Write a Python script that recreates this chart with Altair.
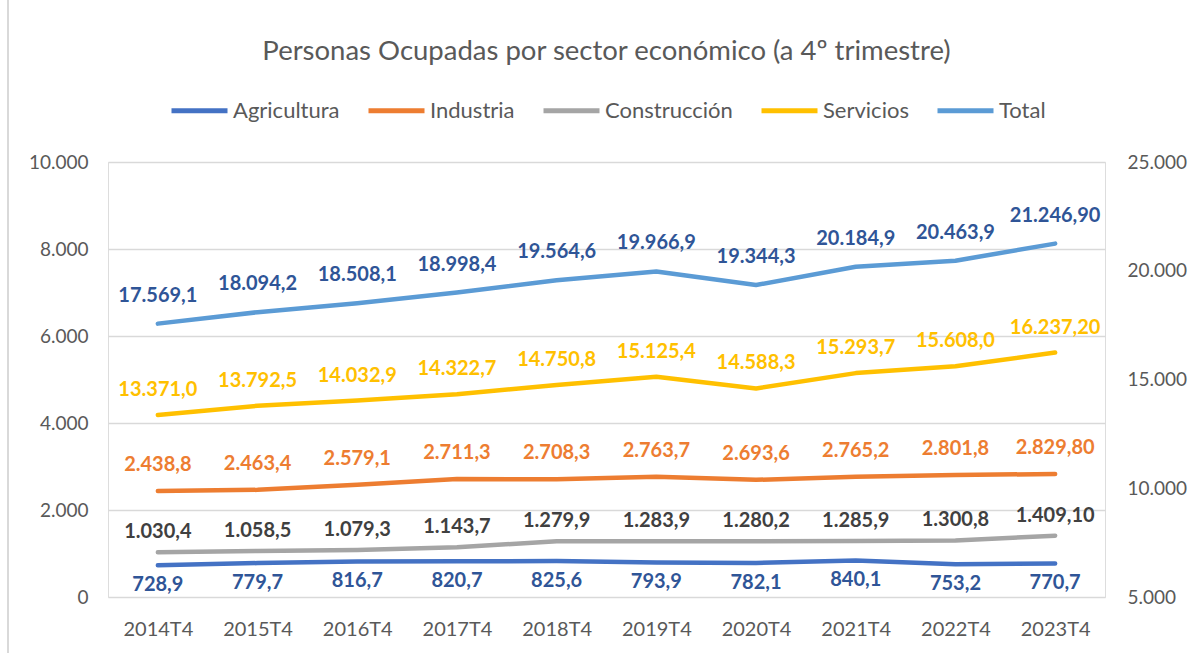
import altair as alt
import pandas as pd

categories = ["2014T4", "2015T4", "2016T4", "2017T4", "2018T4",
              "2019T4", "2020T4", "2021T4", "2022T4", "2023T4"]

agricultura = [728.9, 779.7, 816.7, 820.7, 825.6, 793.9, 782.1, 840.1, 753.2, 770.7]
industria = [2438.8, 2463.4, 2579.1, 2711.3, 2708.3, 2763.7, 2693.6, 2765.2, 2801.8, 2829.8]
construccion = [1030.4, 1058.5, 1079.3, 1143.7, 1279.9, 1283.9, 1280.2, 1285.9, 1300.8, 1409.1]
servicios = [13371.0, 13792.5, 14032.9, 14322.7, 14750.8, 15125.4, 14588.3, 15293.7, 15608.0, 16237.2]
total = [17569.1, 18094.2, 18508.1, 18998.4, 19564.6, 19966.9, 19344.3, 20184.9, 20463.9, 21246.9]

lab_agricultura = ["728,9", "779,7", "816,7", "820,7", "825,6", "793,9", "782,1", "840,1", "753,2", "770,7"]
lab_industria = ["2.438,8", "2.463,4", "2.579,1", "2.711,3", "2.708,3", "2.763,7", "2.693,6", "2.765,2", "2.801,8", "2.829,80"]
lab_construccion = ["1.030,4", "1.058,5", "1.079,3", "1.143,7", "1.279,9", "1.283,9", "1.280,2", "1.285,9", "1.300,8", "1.409,10"]
lab_servicios = ["13.371,0", "13.792,5", "14.032,9", "14.322,7", "14.750,8", "15.125,4", "14.588,3", "15.293,7", "15.608,0", "16.237,20"]
lab_total = ["17.569,1", "18.094,2", "18.508,1", "18.998,4", "19.564,6", "19.966,9", "19.344,3", "20.184,9", "20.463,9", "21.246,90"]

series_names = ["Agricultura", "Industria", "Construcción", "Servicios", "Total"]
line_colors = ["#4472C4", "#ED7D31", "#A5A5A5", "#FFC000", "#5B9BD5"]
label_colors = ["#2F5597", "#ED7D31", "#404040", "#FFC000", "#2F5597"]

rows = []
for name, vals, labs in zip(series_names,
                            [agricultura, industria, construccion, servicios, total],
                            [lab_agricultura, lab_industria, lab_construccion, lab_servicios, lab_total]):
    for c, v, l in zip(categories, vals, labs):
        rows.append({"cat": c, "series": name, "value": v, "label": l})
df = pd.DataFrame(rows)

FONT = "Lato"
GREY = "#595959"

x_enc = alt.X("cat:N", sort=categories, title=None,
              scale=alt.Scale(type="point", padding=0.5),
              axis=alt.Axis(labelAngle=0, ticks=False, domain=False, grid=False,
                            labelFontSize=20, labelColor=GREY, labelFont=FONT,
                            labelPadding=22))
color_enc = alt.Color("series:N", sort=series_names, title=None,
                      scale=alt.Scale(domain=series_names, range=line_colors),
                      legend=alt.Legend(orient="none", legendX=61, legendY=-82,
                                        direction="horizontal", symbolType="stroke",
                                        symbolStrokeWidth=5, symbolSize=3136,
                                        labelFontSize=22, labelFont=FONT,
                                        labelColor=GREY, columnPadding=18,
                                        labelOffset=3))

left_y = alt.Y("value:Q", title=None,
               scale=alt.Scale(domain=[0, 10000], nice=False),
               axis=alt.Axis(orient="left", values=[0, 2000, 4000, 6000, 8000, 10000],
                             grid=True, gridColor="#D9D9D9", gridWidth=1.3,
                             domain=False, ticks=False, labelFontSize=19,
                             labelFont=FONT, labelColor=GREY, labelPadding=20,
                             labelExpr="replace(format(datum.value, ','), regexp(',', 'g'), '.')"))
right_y = alt.Y("value:Q", title=None,
                scale=alt.Scale(domain=[5000, 25000], nice=False),
                axis=alt.Axis(orient="right", values=[5000, 10000, 15000, 20000, 25000],
                              grid=False, domain=False, ticks=False, labelFontSize=19,
                              labelFont=FONT, labelColor=GREY, labelPadding=22,
                              labelExpr="replace(format(datum.value, ','), regexp(',', 'g'), '.')"))

base = alt.Chart(df)

def lines(names, y):
    return base.transform_filter(
        alt.FieldOneOfPredicate(field="series", oneOf=names)
    ).mark_line(strokeWidth=4.5, strokeCap="round", strokeJoin="round").encode(
        x=x_enc, y=y, color=color_enc)

def labels(name, y, dy):
    i = series_names.index(name)
    return base.transform_filter(alt.datum.series == name).mark_text(
        font=FONT, fontSize=20, fontWeight="bold", dy=dy, color=label_colors[i]
    ).encode(x=x_enc, y=y, text="label:N")

frame = base.mark_rule(color="#D9D9D9", strokeWidth=1.5).encode(
    x=alt.value(-100), y=alt.value(-162), y2=alt.value(491))

left = alt.layer(
    lines(["Agricultura", "Industria", "Construcción"], left_y),
    labels("Agricultura", left_y, 20),
    labels("Industria", left_y, -26),
    labels("Construcción", left_y, -20),
    frame,
)
right = alt.layer(
    lines(["Servicios", "Total"], right_y),
    labels("Servicios", right_y, -25),
    labels("Total", right_y, -28),
)

chart = alt.layer(left, right).resolve_scale(y="independent").properties(
    width=997, height=435,
    title=alt.TitleParams("Personas Ocupadas por sector económico (a 4º trimestre)",
                          font=FONT, fontSize=27.5, fontWeight="normal", color=GREY,
                          anchor="middle", dx=0, offset=-66),
    autosize=alt.AutoSizeParams(type="none"),
    padding={"left": 108, "top": 162, "right": 83, "bottom": 56},
).configure_view(stroke=None).configure(background="white")

chart.save("out.html", embed_options={"renderer": "svg", "actions": False})
